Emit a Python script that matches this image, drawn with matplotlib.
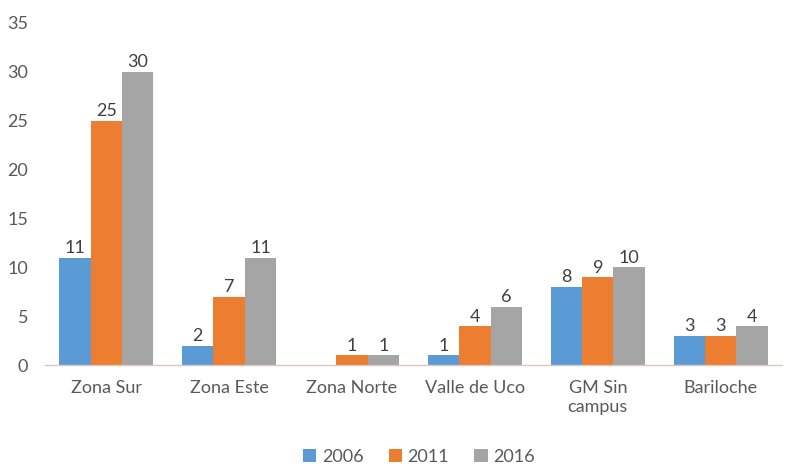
import matplotlib
matplotlib.use("Agg")
import matplotlib.pyplot as plt
import numpy as np

plt.rcParams["font.family"] = ["Lato", "DejaVu Sans"]

categories = ["Zona Sur", "Zona Este", "Zona Norte", "Valle de Uco", "GM Sin\ncampus", "Bariloche"]
years = ["2006", "2011", "2016"]
v2006 = [11, 2, np.nan, 1, 8, 3]
v2011 = [25, 7, 1, 4, 9, 3]
v2016 = [30, 11, 1, 6, 10, 4]
colors = ["#5B9BD5", "#ED7D31", "#A5A5A5"]

fig = plt.figure(figsize=(7.86, 4.67), dpi=100)
ax = fig.add_axes([0.057, 0.218, 0.938, 0.733])

x = np.arange(len(categories))
w = 0.255
for i, (vals, yr, c) in enumerate(zip([v2006, v2011, v2016], years, colors)):
    ax.bar(x + (i - 1) * w, vals, width=w, color=c, label=yr, zorder=2)
    for xi, v in zip(x + (i - 1) * w, vals):
        if not np.isnan(v):
            ax.text(xi, v + 0.15, f"{v:g}", ha="center", va="bottom", fontsize=13, color="#404040")

ax.set_xlim(-0.5, len(categories) - 0.5)
ax.set_ylim(0, 35)
ax.set_yticks(range(0, 36, 5))
ax.set_xticks(x)
ax.set_xticklabels(categories, fontsize=13, color="#595959")
ax.tick_params(axis="y", labelsize=13, labelcolor="#595959", length=0, pad=12)
ax.tick_params(axis="x", length=0, pad=11)
for s in ["top", "right", "left"]:
    ax.spines[s].set_visible(False)
ax.spines["bottom"].set_color("#D9C8C0")
ax.spines["bottom"].set_linewidth(1)

fig.legend(*ax.get_legend_handles_labels(), loc="center", bbox_to_anchor=(0.533, 0.022),
           bbox_transform=fig.transFigure, ncol=3, frameon=False, borderpad=0,
           fontsize=13, handlelength=0.75, handleheight=0.8, handletextpad=0.3,
           columnspacing=1.4, labelcolor="#595959")

fig.savefig("out.png", dpi=100)
